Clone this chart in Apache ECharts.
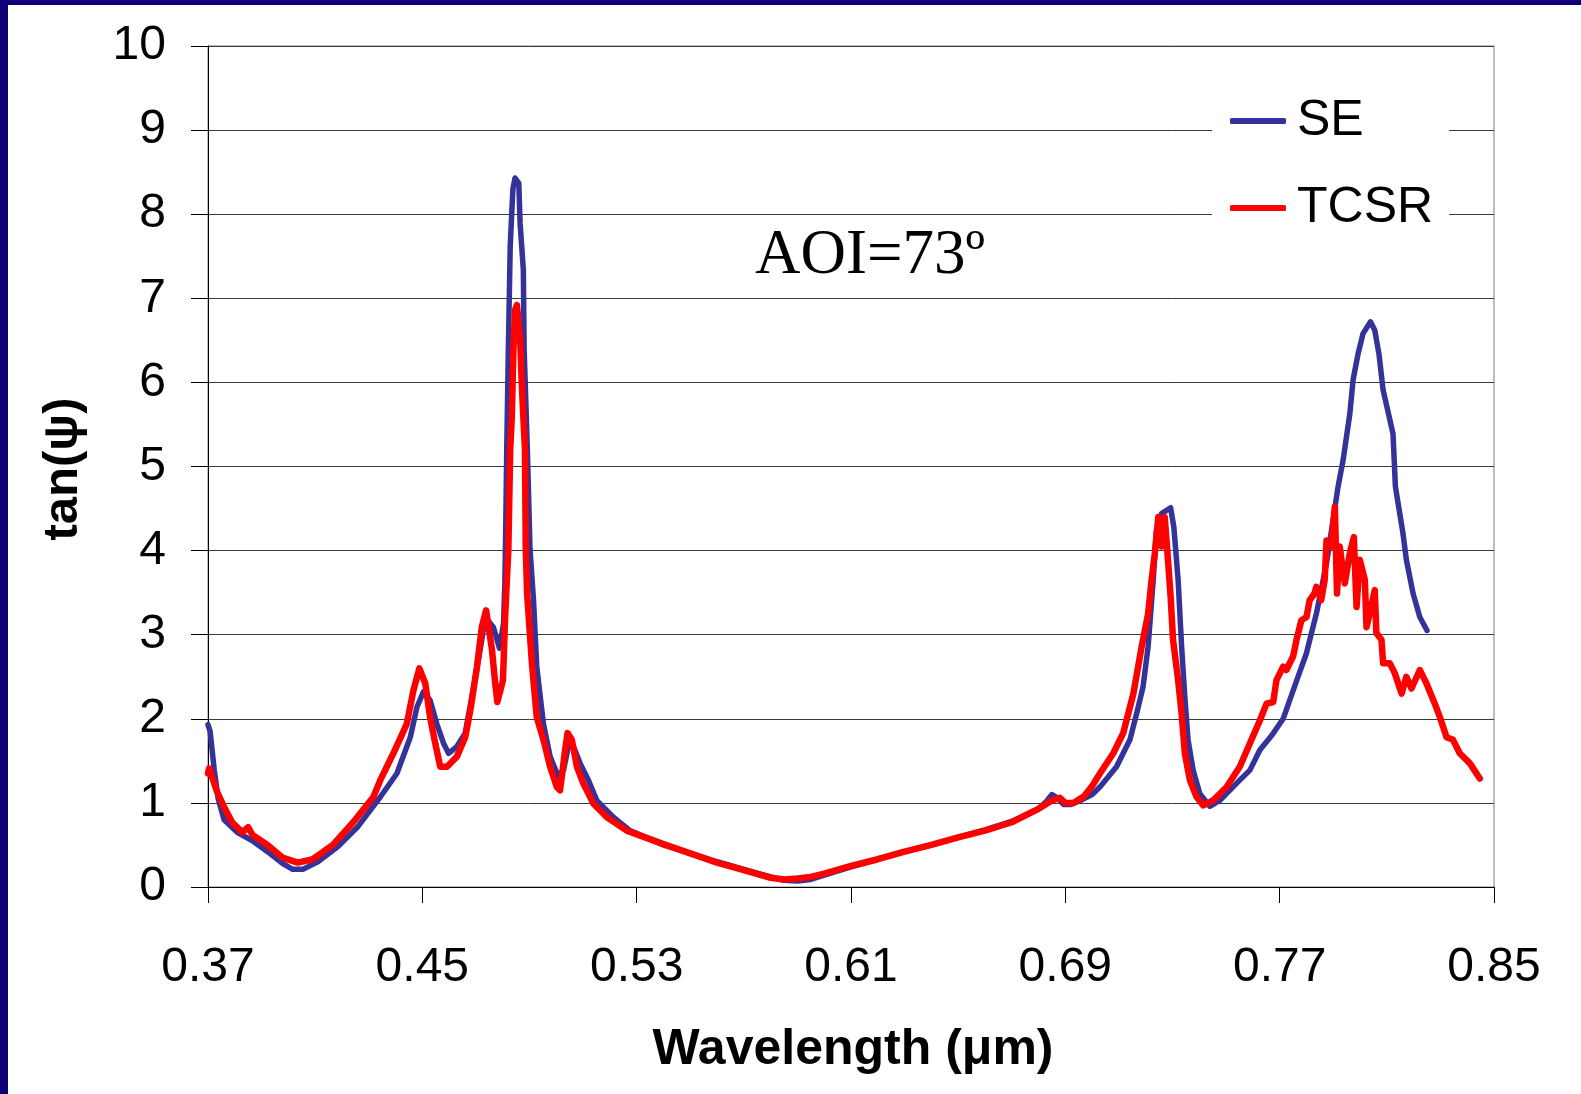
<!DOCTYPE html>
<html>
<head>
<meta charset="utf-8">
<script src="https://cdn.jsdelivr.net/npm/echarts@6.0.0/dist/echarts.min.js"></script>
<style>
html,body{margin:0;padding:0;background:#fff;}
#chart{width:1581px;height:1094px;}
</style>
</head>
<body>
<div id="chart"></div>
<script>
// ---- data ----
const xTickLabels = [0.37, 0.45, 0.53, 0.61, 0.69, 0.77, 0.85];
const seWavelength = [0.3700,0.3708,0.3723,0.3738,0.3760,0.3809,0.3866,0.3922,0.3978,0.4016,0.4054,0.4110,0.4185,0.4260,0.4343,0.4405,0.4455,0.4480,0.4504,0.4529,0.4554,0.4579,0.4598,0.4629,0.4660,0.4685,0.4716,0.4735,0.4765,0.4788,0.4803,0.4808,0.4811,0.4815,0.4821,0.4828,0.4838,0.4846,0.4860,0.4865,0.4877,0.4880,0.4892,0.4902,0.4915,0.4927,0.4952,0.4977,0.5008,0.5027,0.5045,0.5064,0.5089,0.5120,0.5151,0.5213,0.5275,0.5400,0.5500,0.5600,0.5700,0.5800,0.5850,0.5900,0.5950,0.6000,0.6100,0.6200,0.6300,0.6400,0.6500,0.6600,0.6700,0.6750,0.6800,0.6830,0.6850,0.6870,0.6894,0.6920,0.6950,0.7000,0.7029,0.7091,0.7141,0.7166,0.7190,0.7209,0.7228,0.7240,0.7259,0.7293,0.7305,0.7321,0.7334,0.7346,0.7358,0.7377,0.7402,0.7439,0.7477,0.7551,0.7589,0.7626,0.7670,0.7713,0.7763,0.7800,0.7837,0.7875,0.7899,0.7918,0.7937,0.7962,0.7974,0.7992,0.8011,0.8039,0.8055,0.8071,0.8086,0.8123,0.8132,0.8160,0.8173,0.8198,0.8223,0.8250];
const seValue = [1.93,1.85,1.40,1.05,0.80,0.65,0.55,0.42,0.28,0.21,0.21,0.30,0.48,0.72,1.07,1.35,1.78,2.14,2.32,2.22,1.94,1.71,1.59,1.67,1.83,2.26,2.82,3.21,3.09,2.84,3.13,3.61,4.20,5.20,6.39,7.62,8.30,8.43,8.37,7.89,7.34,6.39,5.20,4.01,3.41,2.62,1.94,1.55,1.31,1.39,1.67,1.67,1.47,1.27,1.03,0.83,0.67,0.50,0.40,0.30,0.21,0.12,0.08,0.07,0.09,0.14,0.24,0.33,0.42,0.50,0.59,0.68,0.78,0.85,0.93,1.02,1.10,1.06,0.98,0.98,1.02,1.10,1.19,1.43,1.75,2.06,2.38,2.86,3.65,4.24,4.44,4.51,4.28,3.65,2.86,2.26,1.75,1.39,1.11,0.96,1.03,1.27,1.39,1.63,1.80,2.00,2.45,2.78,3.25,3.85,4.36,4.76,5.08,5.63,6.03,6.33,6.58,6.72,6.62,6.33,5.91,5.39,4.76,4.21,3.89,3.49,3.21,3.05];
const tcsrWavelength = [0.3700,0.3704,0.3715,0.3734,0.3760,0.3790,0.3828,0.3850,0.3866,0.3922,0.3978,0.4035,0.4091,0.4166,0.4242,0.4317,0.4343,0.4392,0.4442,0.4467,0.4489,0.4511,0.4529,0.4548,0.4567,0.4592,0.4629,0.4660,0.4679,0.4704,0.4722,0.4738,0.4760,0.4772,0.4780,0.4801,0.4809,0.4821,0.4828,0.4834,0.4840,0.4846,0.4853,0.4865,0.4871,0.4877,0.4883,0.4886,0.4891,0.4909,0.4927,0.4952,0.4977,0.5002,0.5014,0.5033,0.5042,0.5058,0.5077,0.5101,0.5139,0.5189,0.5263,0.5400,0.5500,0.5600,0.5700,0.5800,0.5850,0.5900,0.5950,0.6000,0.6100,0.6200,0.6300,0.6400,0.6500,0.6600,0.6700,0.6750,0.6800,0.6850,0.6880,0.6900,0.6930,0.6970,0.7000,0.7029,0.7079,0.7116,0.7154,0.7185,0.7209,0.7222,0.7234,0.7247,0.7259,0.7271,0.7284,0.7293,0.7302,0.7321,0.7334,0.7346,0.7365,0.7390,0.7415,0.7452,0.7502,0.7551,0.7589,0.7626,0.7651,0.7676,0.7688,0.7713,0.7725,0.7750,0.7763,0.7781,0.7800,0.7812,0.7830,0.7837,0.7855,0.7868,0.7875,0.7893,0.7906,0.7914,0.7924,0.7943,0.7962,0.7977,0.7987,0.7999,0.8018,0.8024,0.8036,0.8055,0.8061,0.8080,0.8086,0.8111,0.8130,0.8155,0.8173,0.8192,0.8223,0.8248,0.8279,0.8298,0.8323,0.8347,0.8372,0.8410,0.8447];
const tcsrValue = [1.35,1.41,1.31,1.13,0.95,0.77,0.65,0.71,0.62,0.50,0.35,0.29,0.33,0.50,0.77,1.07,1.27,1.59,1.94,2.34,2.60,2.42,2.02,1.71,1.43,1.43,1.55,1.78,2.10,2.62,3.09,3.29,2.82,2.42,2.20,2.46,3.21,4.01,5.20,5.59,6.39,6.86,6.92,6.54,5.99,5.59,5.20,4.01,3.49,2.66,2.02,1.75,1.43,1.19,1.15,1.63,1.83,1.75,1.43,1.23,0.99,0.83,0.67,0.51,0.40,0.29,0.20,0.11,0.09,0.10,0.12,0.16,0.25,0.33,0.42,0.50,0.59,0.67,0.77,0.85,0.93,1.03,1.06,1.00,1.00,1.08,1.20,1.35,1.59,1.83,2.30,2.86,3.25,3.65,3.97,4.40,4.05,4.40,3.85,3.45,2.94,2.46,2.06,1.59,1.27,1.07,0.97,1.03,1.19,1.43,1.71,1.98,2.18,2.20,2.46,2.62,2.58,2.74,2.94,3.17,3.21,3.41,3.49,3.57,3.41,3.65,4.12,4.05,4.52,3.49,4.05,3.61,3.97,4.16,3.33,3.89,3.65,3.09,3.25,3.53,3.02,2.94,2.66,2.66,2.54,2.30,2.50,2.36,2.58,2.42,2.18,2.02,1.78,1.75,1.59,1.47,1.29];

const zip = (xs, ys) => xs.map((x, i) => [x, ys[i]]);
const FONT = '"Liberation Sans", Arial, sans-serif';

const chart = echarts.init(document.getElementById('chart'), null, {renderer: 'canvas'});
chart.setOption({
  animation: false,
  backgroundColor: '#fff',
  grid: {left: 208, right: 87, top: 46, bottom: 207, show: true, borderColor: '#808080', borderWidth: 1, backgroundColor: '#fff'},
  xAxis: {
    type: 'value', min: 0.37, max: 0.85,
    axisLine: {show: true, onZero: false, lineStyle: {color: '#000', width: 1}},
    axisTick: {show: true, inside: false, length: 16, customValues: xTickLabels, lineStyle: {color: '#000'}},
    axisLabel: {show: true, customValues: xTickLabels, margin: 57, fontSize: 48, fontFamily: FONT, color: '#000',
      formatter: v => Number(v).toFixed(2)},
    splitLine: {show: false}
  },
  yAxis: {
    type: 'value', min: 0, max: 10, interval: 1,
    axisLine: {show: true, lineStyle: {color: '#000', width: 1}},
    axisTick: {show: true, inside: false, length: 17, lineStyle: {color: '#000'}},
    axisLabel: {margin: 42, fontSize: 48, fontFamily: FONT, color: '#000'},
    splitLine: {show: true, lineStyle: {color: '#3a3a3a', width: 1}}
  },
  legend: {
    orient: 'vertical', left: 1212, top: 83,
    padding: [10, 16, 10, 18], backgroundColor: '#fff',
    itemWidth: 56, itemHeight: 6, itemGap: 31, icon: 'roundRect',
    textStyle: {fontSize: 50, fontFamily: FONT, color: '#000', lineHeight: 56, padding: [0, 0, 0, 6]},
    data: ['SE', 'TCSR']
  },
  series: [
    {name: 'SE', type: 'line', data: zip(seWavelength, seValue), showSymbol: false, symbol: 'none',
      color: '#333399', lineStyle: {color: '#333399', width: 5.5, join: 'round', cap: 'round'}, z: 2},
    {name: 'TCSR', type: 'line', data: zip(tcsrWavelength, tcsrValue), showSymbol: false, symbol: 'none',
      color: '#ff0000', lineStyle: {color: '#ff0000', width: 6.5, join: 'round', cap: 'round'}, z: 3}
  ],
  graphic: [
    {type: 'rect', left: 0, top: 0, shape: {width: 8, height: 1094}, style: {fill: '#0d0078'}, z: 100},
    {type: 'rect', left: 0, top: 0, shape: {width: 1581, height: 5}, style: {fill: '#0d0078'}, z: 100},
    {type: 'text', x: 755, y: 256, style: {text: 'AOI=73º', font: '63px "Liberation Serif", "Times New Roman", serif', fill: '#000', align: 'left', verticalAlign: 'middle'}, z: 50},
    {type: 'text', x: 63, y: 469, rotation: Math.PI / 2, style: {text: 'tan(ψ)', font: 'bold 49px ' + FONT, fill: '#000', align: 'center', verticalAlign: 'middle'}, z: 50},
    {type: 'text', x: 853, y: 1050, style: {text: 'Wavelength (μm)', font: 'bold 50px ' + FONT, fill: '#000', align: 'center', verticalAlign: 'middle'}, z: 50}
  ]
});
</script>
</body>
</html>
